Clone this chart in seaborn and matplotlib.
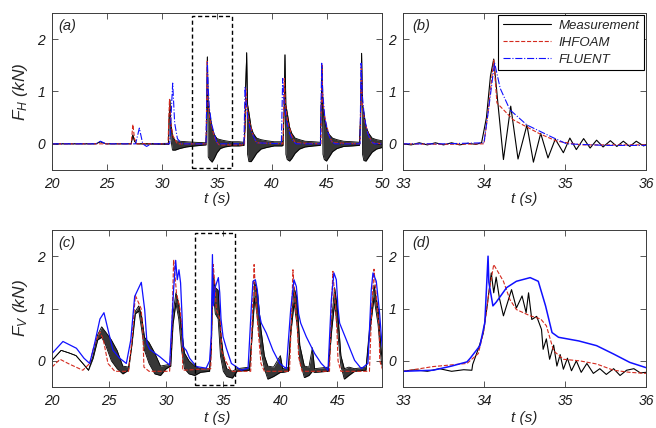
import numpy as np
import pandas as pd
import matplotlib
matplotlib.use("Agg")
import matplotlib.pyplot as plt
from matplotlib.patches import Rectangle
import seaborn as sns

# ---------------- DATA ----------------
# Panel (a): horizontal force, overview (measurement given as envelope of the ringing)
meas_a_t = [20, 24.0, 24.4, 24.9, 27.2, 27.35, 27.5, 27.7, 30.6, 30.65, 30.72, 30.8, 30.95, 31.2, 31.6, 32.2,
            33.0, 34.0, 34.05, 34.12, 34.2, 34.33, 34.55, 34.75, 35.0, 35.3, 35.7, 36.3, 37.0,
            37.45, 37.55, 37.6, 37.7, 37.78, 37.9, 38.1, 38.3, 38.6, 39.0, 39.5, 40.2, 40.9,
            41.0, 41.1, 41.18, 41.26, 41.38, 41.6, 41.8, 42.1, 42.5, 43.0, 43.8, 44.4,
            44.45, 44.55, 44.63, 44.75, 44.95, 45.2, 45.5, 45.9, 46.5, 47.3, 47.95,
            48.05, 48.15, 48.23, 48.35, 48.55, 48.8, 49.1, 49.5, 50.0]
meas_a_hi = [0, 0, 0.04, 0, 0, 0.17, 0.05, 0, 0.01, 0.5, 0.84, 0.4, 0.15, 0.06, 0.05, 0.04,
             0.03, 0.02, 0.3, 1.66, 0.75, 0.6, 0.3, 0.18, 0.1, 0.08, 0.06, 0.04, 0.04,
             0.03, 0.3, 1.05, 1.74, 0.75, 0.6, 0.32, 0.2, 0.11, 0.08, 0.06, 0.04, 0.04,
             0.05, 0.6, 1.7, 0.75, 0.6, 0.32, 0.2, 0.11, 0.08, 0.05, 0.04, 0.03,
             0.5, 1.47, 0.7, 0.5, 0.3, 0.18, 0.11, 0.08, 0.05, 0.04, 0.03,
             0.5, 1.73, 0.75, 0.6, 0.32, 0.2, 0.11, 0.08, 0.06]
meas_a_lo = [0, 0, 0.04, 0, 0, 0.17, 0.05, 0, -0.01, 0.5, 0.84, 0.1, -0.12, -0.12, -0.09, -0.06,
             -0.04, -0.02, 0.3, 1.66, -0.25, -0.3, -0.35, -0.28, -0.17, -0.09, -0.06, -0.04, -0.04,
             -0.03, 0.3, 1.05, 1.74, -0.2, -0.34, -0.34, -0.28, -0.18, -0.1, -0.07, -0.04, -0.04,
             -0.03, 0.6, 1.7, -0.2, -0.3, -0.33, -0.28, -0.18, -0.1, -0.06, -0.04, -0.03,
             0.5, 1.47, -0.2, -0.3, -0.33, -0.25, -0.15, -0.09, -0.05, -0.04, -0.03,
             0.5, 1.73, -0.2, -0.32, -0.33, -0.25, -0.16, -0.1, -0.07]
ihf_a_t = [20, 27.2, 27.35, 27.5, 27.7, 30.55, 30.68, 30.8, 31.0, 31.4, 34.0, 34.12, 34.17, 34.36, 34.69,
           34.9, 35.2, 37.5, 37.62, 37.7, 37.9, 38.3, 38.6, 41.0, 41.12, 41.2, 41.4, 41.8, 42.1,
           44.45, 44.55, 44.62, 44.85, 45.2, 45.5, 48.0, 48.12, 48.2, 48.4, 48.8, 49.1, 50]
ihf_a_f = [0, 0, 0.37, 0.1, 0, 0, 0.85, 0.4, 0.15, 0.0, 0, 1.6, 0.8, 0.46, 0.19,
           0.05, -0.02, -0.02, 1.05, 0.75, 0.45, 0.15, 0.02, 0, 1.25, 0.8, 0.45, 0.15, 0.02,
           0, 1.5, 0.8, 0.45, 0.15, 0.02, 0, 1.5, 0.8, 0.45, 0.15, 0.02, 0]
flu_a_t = [20, 24.0, 24.4, 24.9, 27.6, 27.94, 28.25, 28.6, 29.0, 30.7, 30.97, 31.15, 31.4, 31.8,
           34.0, 34.13, 34.2, 34.32, 34.53, 34.69, 34.85, 35.02, 37.45, 37.55, 37.65, 37.8, 38.0,
           38.3, 38.6, 40.85, 40.97, 41.1, 41.3, 41.6, 41.9, 42.2, 44.4, 44.52, 44.62, 44.8, 45.1,
           45.4, 45.7, 48.0, 48.1, 48.2, 48.4, 48.7, 49.0, 49.3, 50]
flu_a_f = [0, 0, 0.05, 0, 0, 0.30, 0.0, -0.05, 0, 0, 1.16, 0.4, 0.1, 0,
           0, 1.55, 1.06, 0.65, 0.36, 0.24, 0.12, 0.0, 0, 1.09, 0.8, 0.5, 0.3,
           0.15, 0.02, 0, 1.25, 0.8, 0.45, 0.2, 0.05, 0, 0, 1.54, 0.95, 0.5, 0.2,
           0.05, 0, 0, 1.54, 0.95, 0.5, 0.2, 0.05, 0, 0]

# Panel (b): horizontal force, zoom on 33-36 s
meas_b_t = [33.0, 33.1, 33.2, 33.3, 33.4, 33.5, 33.6, 33.7, 33.8, 33.9, 33.97, 34.03, 34.08, 34.12, 34.17,
            34.24, 34.33, 34.42, 34.53, 34.61, 34.70, 34.79, 34.88, 34.98, 35.06, 35.14, 35.23, 35.31,
            35.39, 35.47, 35.56, 35.64, 35.72, 35.80, 35.88, 35.97, 36.0]
meas_b_f = [0.0, -0.02, 0.02, -0.02, 0.02, -0.02, 0.02, -0.02, 0.01, -0.01, 0.02, 0.5, 1.3, 1.62, 0.8,
            -0.3, 0.72, -0.29, 0.36, -0.35, 0.2, -0.27, 0.09, -0.17, 0.11, -0.11, 0.1, -0.08,
            0.07, -0.06, 0.06, -0.05, 0.05, -0.05, 0.05, -0.04, -0.02]
ihf_b_t = [33.0, 33.5, 34.0, 34.05, 34.12, 34.16, 34.36, 34.69, 34.9, 35.2, 36.0]
ihf_b_f = [0.0, -0.01, 0.0, 0.6, 1.6, 0.78, 0.46, 0.19, 0.05, -0.02, -0.02]
flu_b_t = [33.0, 33.5, 34.0, 34.06, 34.13, 34.2, 34.32, 34.53, 34.69, 34.85, 35.02, 35.5, 36.0]
flu_b_f = [0.0, 0.0, 0.02, 0.7, 1.55, 1.06, 0.65, 0.36, 0.24, 0.12, 0.0, -0.03, -0.03]

# Panel (c): vertical force, overview (measurement as envelope of the noise band)
meas_c_t = [20.0, 20.8, 21.5, 22.1, 22.7, 23.2, 23.6, 24.0, 24.35, 24.7, 25.2, 25.7, 26.2, 26.7, 27.0,
            27.3, 27.6, 27.85, 28.1, 28.5, 29.0, 29.5, 30.0, 30.4, 30.6, 30.85, 31.1, 31.35, 31.6,
            32.0, 32.5, 33.0, 33.8, 33.95, 34.08, 34.3, 34.55, 34.75, 35.0, 35.3, 35.8, 36.2, 37.3,
            37.5, 37.75, 38.0, 38.3, 38.6, 38.9, 39.4, 40.0, 40.2, 40.7, 40.9, 41.2, 41.45, 41.7,
            42.1, 42.5, 42.8, 43.0, 44.2, 44.5, 44.75, 45.0, 45.3, 45.6, 46.0, 46.5, 47.5, 47.8,
            48.2, 48.55, 48.85, 49.0]
meas_c_hi = [0.01, 0.2, 0.15, 0.1, -0.05, -0.18, 0.1, 0.5, 0.65, 0.55, 0.4, 0.2, -0.1, -0.12, 0.3,
             0.95, 1.05, 0.85, 0.45, 0.35, 0.15, -0.1, -0.08, -0.06, 0.9, 1.3, 1.1, 0.6, 0.15,
             0.0, -0.1, -0.15, -0.15, 0.3, 1.7, 1.4, 1.35, 0.6, 0.1, -0.15, -0.2, -0.15, -0.12,
             0.5, 1.5, 1.3, 0.6, 0.1, -0.1, -0.12, 0.1, -0.15, -0.12, 0.6, 1.4, 1.2, 0.3,
             -0.1, -0.12, 0.25, -0.15, -0.12, 0.8, 1.4, 1.0, 0.1, -0.15, -0.12, -0.15, -0.12, 0.6,
             1.45, 1.0, 0.15, 0.0]
meas_c_lo = [0.01, 0.2, 0.15, 0.1, -0.05, -0.18, 0.05, 0.4, 0.45, 0.3, 0.0, -0.15, -0.25, -0.18, 0.3,
             0.9, 0.95, 0.6, 0.2, -0.05, -0.25, -0.28, -0.15, -0.1, 0.7, 1.1, 0.8, 0.2, -0.15,
             -0.25, -0.28, -0.22, -0.2, 0.2, 1.4, 0.9, 0.8, 0.1, -0.2, -0.3, -0.33, -0.2, -0.18,
             0.4, 1.2, 0.8, 0.2, -0.15, -0.35, -0.3, -0.22, -0.22, -0.2, 0.5, 1.1, 0.7, 0.0,
             -0.32, -0.28, -0.2, -0.22, -0.2, 0.6, 1.1, 0.6, -0.1, -0.35, -0.28, -0.2, -0.18, 0.5,
             1.2, 0.7, -0.05, -0.15]
ihf_c_t = [20.0, 20.7, 21.5, 22.7, 23.3, 23.7, 24.2, 24.5, 24.9, 25.5, 26.7, 27.0, 27.3, 27.8, 27.95,
           28.05, 28.5, 30.3, 30.5, 30.65, 30.9, 31.2, 31.4, 31.45, 33.9, 34.12, 34.24, 34.4, 34.7,
           34.77, 34.86, 35.2, 35.7, 37.4, 37.55, 37.7, 37.85, 38.0, 38.3, 38.6, 40.8, 41.0, 41.1,
           41.3, 41.5, 41.6, 41.9, 44.3, 44.45, 44.6, 44.8, 44.95, 45.05, 45.3, 47.8, 48.0, 48.2,
           48.45, 48.65, 48.7, 49.0]
ihf_c_f = [-0.12, 0.03, -0.06, -0.18, -0.05, 0.3, 0.55, 0.4, -0.05, -0.2, -0.2, 0.4, 1.25, 1.0, 0.6,
           -0.12, -0.2, -0.2, 0.6, 1.93, 1.3, 1.0, 0.6, -0.18, -0.15, 1.84, 1.52, 0.98, 0.8,
           0.67, 0.19, 0.0, -0.2, -0.2, 0.9, 1.84, 1.2, 0.72, -0.05, -0.2, -0.2, 1.0, 1.74,
           1.1, 0.6, 0.07, -0.2, -0.2, 0.9, 1.71, 1.1, 0.6, 0.0, -0.2, -0.2, 1.0, 1.75,
           1.1, 0.6, 0.0, -0.2]
flu_c_t = [20.0, 20.96, 22.14, 22.8, 23.3, 23.7, 24.2, 24.55, 24.9, 25.34, 25.93, 26.51, 26.9, 27.24,
           27.82, 28.12, 28.32, 28.55, 29.43, 30.3, 30.65, 30.83, 30.97, 31.12, 31.26, 31.4, 31.47,
           31.76, 32.05, 32.64, 33.5, 33.8, 33.95, 34.05, 34.12, 34.28, 34.57, 34.69, 34.8, 34.98,
           35.27, 35.71, 36.58, 37.17, 37.46, 37.6, 37.81, 37.98, 38.15, 38.33, 38.77, 39.35, 39.94,
           40.52, 40.9, 41.19, 41.4, 41.6, 41.78, 42.27, 43.0, 43.58, 44.17, 44.46, 44.69, 44.9,
           45.05, 45.19, 45.78, 46.5, 47.09, 47.67, 47.96, 48.11, 48.4, 48.69, 48.9, 49.0]
flu_c_f = [0.14, 0.37, 0.24, 0.05, -0.05, 0.3, 0.8, 0.92, 0.6, 0.2, 0.05, -0.05, 0.4, 1.23,
           1.5, 0.97, 0.33, 0.22, 0.08, -0.08, 1.36, 1.92, 1.55, 1.74, 1.49, 0.8, 0.27,
           0.2, 0.05, -0.11, -0.14, 0.0, 0.5, 2.03, 1.05, 1.4, 1.59, 1.3, 0.8, 0.46,
           0.24, -0.05, -0.18, -0.14, 1.04, 1.52, 1.55, 1.36, 0.9, 0.72, 0.53, 0.2, -0.05,
           -0.15, 0.97, 1.55, 1.42, 0.9, 0.72, 0.46, 0.14, -0.05, -0.18, 1.16, 1.68, 1.55,
           1.0, 0.72, 0.4, 0.01, -0.15, -0.05, 1.36, 1.68, 1.52, 0.91, 0.3, 0.2]

# Panel (d): vertical force, zoom on 33-36 s
meas_d_t = [33.0, 33.15, 33.3, 33.45, 33.6, 33.75, 33.85, 33.86, 33.93, 33.99, 34.04, 34.09, 34.12,
            34.15, 34.19, 34.24, 34.34, 34.4, 34.47, 34.52, 34.55, 34.59, 34.65, 34.71, 34.73, 34.77,
            34.81, 34.86, 34.9, 34.94, 34.98, 35.03, 35.08, 35.14, 35.2, 35.27, 35.35, 35.43, 35.51,
            35.6, 35.68, 35.76, 35.85, 35.93, 36.0]
meas_d_f = [-0.2, -0.17, -0.2, -0.15, -0.2, -0.17, -0.18, -0.07, 0.23, 0.52, 1.06, 1.68, 1.3,
            1.6, 1.2, 0.86, 1.36, 1.01, 1.24, 0.92, 1.3, 0.79, 0.85, 0.6, 0.22, 0.42,
            0.03, 0.3, -0.1, 0.12, -0.16, 0.05, -0.19, 0.0, -0.22, -0.05, -0.24, -0.15, -0.26,
            -0.15, -0.28, -0.18, -0.15, -0.23, -0.22]
ihf_d_t = [33.0, 33.37, 33.79, 33.93, 34.0, 34.06, 34.12, 34.24, 34.32, 34.4, 34.57, 34.7, 34.77,
           34.86, 34.98, 35.18, 35.39, 35.6, 35.8, 36.0]
ihf_d_f = [-0.2, -0.11, -0.05, 0.14, 0.6, 1.3, 1.84, 1.52, 1.17, 0.98, 0.86, 0.8, 0.67,
           0.19, 0.03, 0.0, -0.06, -0.18, -0.22, -0.24]
flu_d_t = [33.0, 33.37, 33.6, 33.79, 33.83, 33.95, 34.01, 34.05, 34.06, 34.11, 34.15, 34.28, 34.4,
           34.57, 34.67, 34.76, 34.84, 34.92, 35.17, 35.39, 35.6, 35.8, 36.0]
flu_d_f = [-0.2, -0.18, -0.1, -0.02, 0.05, 0.29, 0.73, 2.0, 1.5, 1.05, 1.12, 1.4, 1.52,
           1.59, 1.52, 1.05, 0.54, 0.45, 0.38, 0.29, 0.13, -0.03, -0.13]

# zoom-window boxes [t0, t1, f0, f1]
box_a = [32.7, 36.4, -0.46, 2.44]
box_c = [32.5, 36.05, -0.47, 2.45]

series_names = ["Measurement", "IHFOAM", "FLUENT"]
panel_tags = ["(a)", "(b)", "(c)", "(d)"]
xticks_wide = [20, 25, 30, 35, 40, 45, 50]
xticks_zoom = [33, 34, 35, 36]
yticks = [0, 1, 2]

# ---------------- STYLE ----------------
sns.set_style("ticks")
plt.rcParams["font.family"] = ["Liberation Sans", "DejaVu Sans"]
plt.rcParams["font.style"] = "italic"
plt.rcParams["mathtext.fontset"] = "custom"
plt.rcParams["mathtext.it"] = "Liberation Sans:italic"
plt.rcParams["mathtext.rm"] = "Liberation Sans:italic"

C_MEAS = "black"
C_IHF = "#d42a1e"
C_FLU = "#1010ff"
FRAME = "#3c3c3c"

fig = plt.figure(figsize=(6.56, 4.28), dpi=100)
W, H = 656, 428


def add_ax(l, r, t, b):
    return fig.add_axes([l / W, 1 - b / H, (r - l) / W, (b - t) / H])


ax_a = add_ax(52, 382, 13, 170)
ax_b = add_ax(403, 646, 13, 170)
ax_c = add_ax(52, 382, 230, 387)
ax_d = add_ax(403, 646, 230, 387)


def line(ax, t, f, color, ls, lw, label=None):
    df = pd.DataFrame({"t": t, "f": f})
    sns.lineplot(data=df, x="t", y="f", ax=ax, color=color, linestyle=ls, linewidth=lw,
                 estimator=None, sort=False, label=label, legend=False)


def band(ax, t, lo, hi):
    df = pd.DataFrame({"t": t, "lo": lo, "hi": hi})
    ax.fill_between(df["t"], df["lo"], df["hi"], color="#141414", linewidth=0.0, alpha=0.85)
    sns.lineplot(data=df, x="t", y="hi", ax=ax, color="black", linewidth=0.6,
                 estimator=None, sort=False, legend=False)
    sns.lineplot(data=df, x="t", y="lo", ax=ax, color="black", linewidth=0.6,
                 estimator=None, sort=False, legend=False)


# (a)
band(ax_a, meas_a_t, meas_a_lo, meas_a_hi)
line(ax_a, ihf_a_t, ihf_a_f, C_IHF, "--", 0.8)
line(ax_a, flu_a_t, flu_a_f, C_FLU, "-.", 0.8)
# (b)
line(ax_b, meas_b_t, meas_b_f, C_MEAS, "-", 0.8, series_names[0])
line(ax_b, ihf_b_t, ihf_b_f, C_IHF, "--", 0.8, series_names[1])
line(ax_b, flu_b_t, flu_b_f, C_FLU, "-.", 0.8, series_names[2])
# (c)
band(ax_c, meas_c_t, meas_c_lo, meas_c_hi)
line(ax_c, ihf_c_t, ihf_c_f, C_IHF, "--", 0.8)
line(ax_c, flu_c_t, flu_c_f, C_FLU, "-", 0.9)
# (d)
line(ax_d, meas_d_t, meas_d_f, C_MEAS, "-", 0.8)
line(ax_d, ihf_d_t, ihf_d_f, C_IHF, "--", 0.8)
line(ax_d, flu_d_t, flu_d_f, C_FLU, "-", 1.1)

for ax, box in ((ax_a, box_a), (ax_c, box_c)):
    ax.add_patch(Rectangle((box[0], box[2]), box[1] - box[0], box[3] - box[2], fill=False,
                           edgecolor="black", linestyle=(0, (3, 2)), linewidth=1.0, zorder=5))

limits = {ax_a: (20, 50), ax_b: (33, 36), ax_c: (20, 48.9), ax_d: (33, 36)}
ticks = {ax_a: xticks_wide, ax_b: xticks_zoom, ax_c: xticks_wide[:-1], ax_d: xticks_zoom}
for ax, tag in zip((ax_a, ax_b, ax_c, ax_d), panel_tags):
    ax.set_xlim(*limits[ax])
    ax.set_ylim(-0.5, 2.5)
    ax.set_xticks(ticks[ax])
    ax.set_yticks(yticks)
    ax.tick_params(direction="in", top=True, right=True, length=4, width=0.6,
                   color=FRAME, labelsize=10, labelcolor="#1a1a1a", pad=5)
    for s in ax.spines.values():
        s.set_color(FRAME)
        s.set_linewidth(0.7)
    pad = 1 if ax in (ax_a, ax_b) else 2
    ax.set_xlabel("t (s)", fontsize=11, labelpad=pad)
    ax.set_ylabel("")
    xpos = 0.02 if ax in (ax_a, ax_c) else 0.04
    ax.text(xpos, 0.92, tag, transform=ax.transAxes, fontsize=10.5, va="center", ha="left")

ax_a.set_ylabel(r"$F_{H}$ (kN)", fontsize=12.5, labelpad=5)
ax_c.set_ylabel(r"$F_{V}$ (kN)", fontsize=12.5, labelpad=5)

leg = ax_b.legend(loc="upper right", fontsize=9.5, frameon=True, fancybox=False,
                  edgecolor="black", framealpha=1, handlelength=3.6, borderaxespad=0.15,
                  borderpad=0.35, labelspacing=0.35, handletextpad=0.6)
leg.get_frame().set_linewidth(0.8)

fig.savefig("out.png", dpi=100)
